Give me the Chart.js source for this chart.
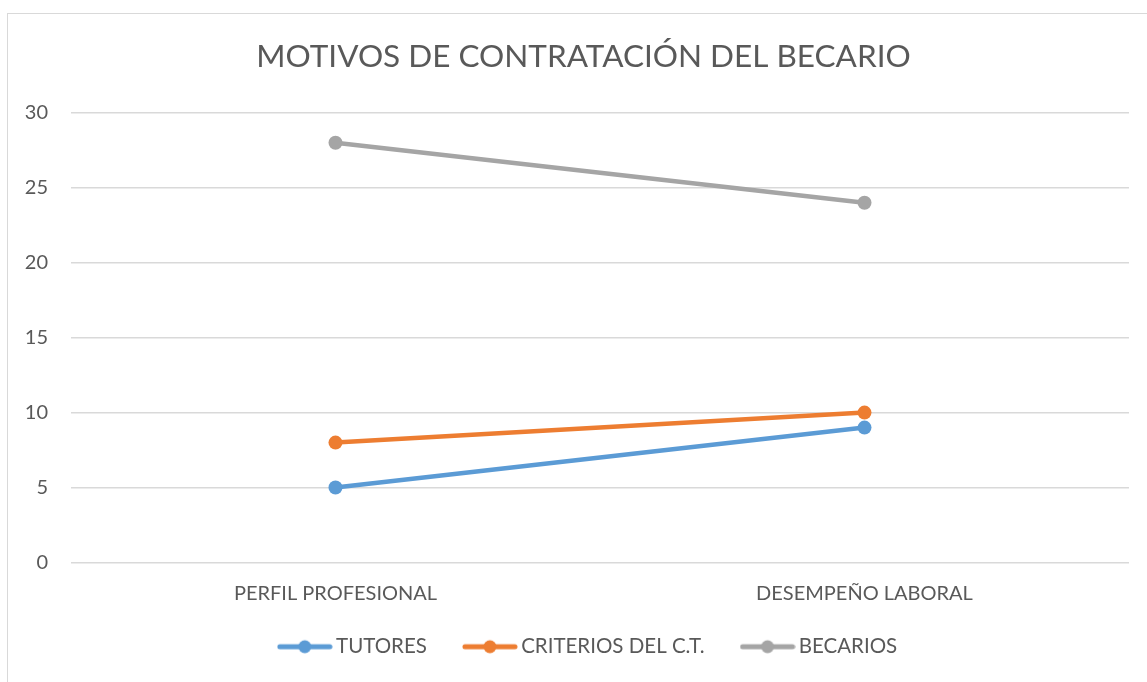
<!DOCTYPE html>
<html>
<head>
<meta charset="utf-8">
<script src="https://cdn.jsdelivr.net/npm/chart.js@4.4.1/dist/chart.umd.min.js"></script>
<style>
  html, body { margin: 0; padding: 0; background: #fff; overflow: hidden; }
  #frame { position: absolute; left: 7px; top: 13px; width: 1160px; height: 690px; border: 1.5px solid #d9d9d9; }
  #chart { position: absolute; left: 0; top: 0; }
</style>
</head>
<body>
<div id="frame"></div>
<canvas id="chart" width="1147" height="682"></canvas>
<script>
var categories = ["PERFIL PROFESIONAL", "DESEMPEÑO LABORAL"];
var tutores = [5, 9];
var criterios = [8, 10];
var becarios = [28, 24];
var seriesNames = ["TUTORES", "CRITERIOS DEL C.T.", "BECARIOS"];
var seriesColors = ["#5b9bd5", "#ed7d31", "#a5a5a5"];

var FONT = "Lato, 'Open Sans', sans-serif";
var TEXT = "#595959";

// legend marker: short line with a dot, like the office legend
function legendMarker(color) {
    var c = document.createElement("canvas");
    c.width = 56;
    c.height = 16;
    var g = c.getContext("2d");
    g.strokeStyle = color;
    g.lineWidth = 5;
    g.lineCap = "round";
    g.beginPath();
    g.moveTo(3, 8);
    g.lineTo(53, 8);
    g.stroke();
    g.fillStyle = color;
    g.beginPath();
    g.arc(28, 8, 6.5, 0, Math.PI * 2);
    g.fill();
    return c;
}

function makeSet(i, values) {
    return {
        label: seriesNames[i],
        data: values,
        borderColor: seriesColors[i],
        backgroundColor: seriesColors[i],
        borderWidth: 4.5,
        pointRadius: 7,
        pointHoverRadius: 7,
        pointBorderWidth: 0,
        tension: 0,
        markerImg: legendMarker(seriesColors[i])
    };
}

// the office chart centres title and legend on the whole frame, a bit right of the plot
var nudge = {
    id: "nudge",
    afterLayout: function (chart) {
        chart.titleBlock.left += 18;
        chart.legend.left += 32;
        chart.legend.top -= 15;
        chart.legend.bottom -= 15;
    }
};

var ctx = document.getElementById("chart").getContext("2d");
var chart = new Chart(ctx, {
    type: "line",
    data: {
        labels: categories,
        datasets: [makeSet(0, tutores), makeSet(1, criterios), makeSet(2, becarios)]
    },
    plugins: [nudge],
    options: {
        responsive: false,
        animation: false,
        layout: { padding: { left: 20, right: 18, top: 38, bottom: 0 } },
        plugins: {
            title: {
                display: true,
                text: "MOTIVOS DE CONTRATACIÓN DEL BECARIO",
                color: TEXT,
                font: { family: FONT, size: 31.5, weight: "normal" },
                padding: { top: 0, bottom: 37 }
            },
            legend: {
                position: "bottom",
                labels: {
                    usePointStyle: true,
                    pointStyleWidth: 42,
                    padding: 42,
                    color: TEXT,
                    font: { family: FONT, size: 20.5 },
                    generateLabels: function (chart) {
                        return chart.data.datasets.map(function (ds, i) {
                            return {
                                text: ds.label,
                                fillStyle: ds.borderColor,
                                strokeStyle: ds.borderColor,
                                lineWidth: 0,
                                pointStyle: ds.markerImg,
                                fontColor: TEXT,
                                datasetIndex: i,
                                hidden: false
                            };
                        });
                    }
                }
            },
            tooltip: { enabled: false }
        },
        scales: {
            x: {
                offset: true,
                grid: { display: false },
                border: { display: false },
                ticks: { color: TEXT, font: { family: FONT, size: 20 }, padding: 11 },
                afterFit: function (scale) { scale.height = 47; }
            },
            y: {
                min: 0,
                max: 30,
                ticks: { stepSize: 5, color: TEXT, font: { family: FONT, size: 20 }, padding: 23 },
                grid: { color: "#d9d9d9", lineWidth: 1.5, drawTicks: false },
                border: { display: false },
                afterFit: function (scale) { scale.width = 51; }
            }
        }
    }
});
</script>
</body>
</html>
